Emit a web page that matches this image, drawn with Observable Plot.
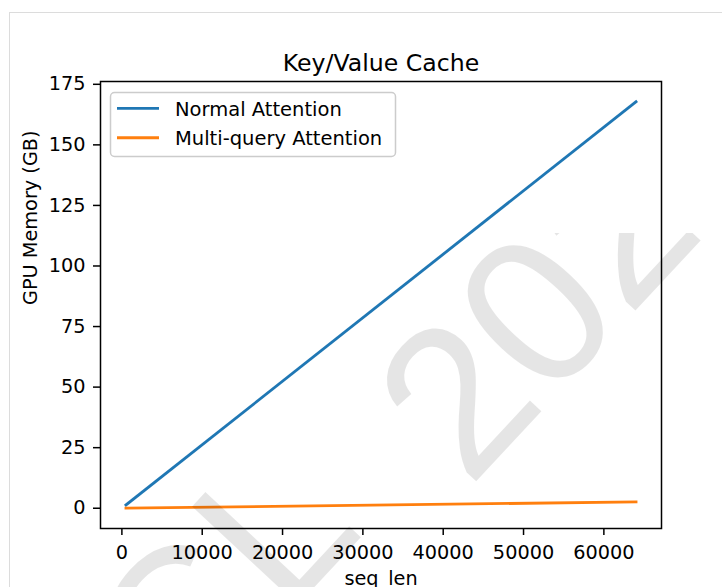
<!DOCTYPE html>
<html><head><meta charset="utf-8">
<script src="https://cdn.jsdelivr.net/npm/d3@7"></script>
<script src="https://cdn.jsdelivr.net/npm/@observablehq/plot@0.6"></script>
<style>
html,body{margin:0;padding:0;background:#fff;width:722px;height:587px;overflow:hidden;}
#frame{position:absolute;left:9px;top:12px;right:0;bottom:0;border-left:1px solid #dcdcdc;border-top:1px solid #dcdcdc;}
#chart{position:absolute;left:0;top:0;}
</style></head><body>
<div id="frame"></div><div id="chart"></div>
<script>
const seqLen = [512, 64000];
const normalAttention = [1.34, 167.77];
const multiQueryAttention = [0.02, 2.62];
const seriesNames = ["Normal Attention", "Multi-query Attention"];
const seriesColors = ["#1f77b4", "#ff7f0e"];
const xTicks = [0, 10000, 20000, 30000, 40000, 50000, 60000];
const yTicks = [0, 25, 50, 75, 100, 125, 150, 175];
const title = "Key/Value Cache";
const xLabel = "seq_len";
const yLabel = "GPU Memory (GB)";

const rows = [];
seqLen.forEach((s, i) => {
  rows.push({seq: s, gb: normalAttention[i], series: seriesNames[0]});
  rows.push({seq: s, gb: multiQueryAttention[i], series: seriesNames[1]});
});

// matplotlib-style 5% margins
const pad = (a) => { const lo = d3.min(a), hi = d3.max(a), m = (hi - lo) * 0.05; return [lo - m, hi + m]; };
const xDomain = pad(seqLen);
const yDomain = pad([...normalAttention, ...multiQueryAttention]);

const FONT = "'DejaVu Sans', sans-serif";

const svg = Plot.plot({
  width: 722, height: 587,
  marginLeft: 100, marginRight: 61, marginTop: 81, marginBottom: 59,
  style: {fontFamily: FONT, fontSize: "19px", color: "black", background: "transparent", overflow: "visible"},
  x: {domain: xDomain},
  y: {domain: yDomain},
  color: {domain: seriesNames, range: seriesColors},
  marks: [
    Plot.line(rows, {x: "seq", y: "gb", z: "series", stroke: "series", strokeWidth: 2.85, strokeLinecap: "square"}),
    Plot.frame({stroke: "black", strokeWidth: 1.5}),
    Plot.axisX({ticks: xTicks, tickFormat: d3.format("d"), tickSize: 7, tickPadding: 10, strokeWidth: 1.5, fontSize: 19.3, label: null}),
    Plot.axisY({ticks: yTicks, tickFormat: d3.format("d"), tickSize: 7, tickPadding: 8, strokeWidth: 1.5, fontSize: 19.3, label: null}),
    Plot.text([title], {text: d => d, frameAnchor: "top", dy: -11, lineAnchor: "bottom", fontSize: 23.6, fill: "black"}),
    Plot.text([xLabel], {text: d => d, frameAnchor: "bottom", dy: 56, lineAnchor: "bottom", fontSize: 19.3, fill: "black"}),
    Plot.text([yLabel], {text: d => d, frameAnchor: "left", dx: -64, rotate: -90, lineAnchor: "bottom", fontSize: 19.3, fill: "black"})
  ]
});
document.getElementById("chart").appendChild(svg);

// Legend (matplotlib-like box, upper left)
const s = d3.select(svg);
const lg = s.append("g").attr("font-family", FONT).attr("font-size", 19.5).attr("text-anchor", "start");
lg.append("rect").attr("x", 110.5).attr("y", 92.5).attr("width", 285).attr("height", 64).attr("rx", 4)
  .attr("fill", "white").attr("fill-opacity", 0.8).attr("stroke", "#cccccc").attr("stroke-width", 1.5);
seriesNames.forEach((name, i) => {
  const yy = 108.3 + i * 29.4;
  lg.append("line").attr("x1", 117).attr("x2", 159).attr("y1", yy).attr("y2", yy)
    .attr("stroke", seriesColors[i]).attr("stroke-width", 2.85);
  lg.append("text").attr("x", 175).attr("y", yy + 7.3).attr("fill", "black").attr("text-anchor", "start").text(name);
});

// Watermark (light, semi-transparent, rotated, clipped to its tile)
s.append("defs").append("clipPath").attr("id", "wmclip")
  .append("rect").attr("x", 0).attr("y", 233).attr("width", 722).attr("height", 400);
const wm = s.append("g").attr("clip-path", "url(#wmclip)")
  .attr("font-family", "'Liberation Sans', Arial, sans-serif").attr("font-size", 210)
  .attr("fill", "#000").attr("fill-opacity", 0.1).attr("text-anchor", "start").attr("pointer-events", "none");
wm.append("text").attr("text-anchor", "start").attr("transform", "translate(469,489) rotate(-47)").text("202");
wm.append("text").attr("text-anchor", "start").attr("transform", "translate(182.6,728.4) rotate(-47)").text("CL");
</script>
</body></html>
